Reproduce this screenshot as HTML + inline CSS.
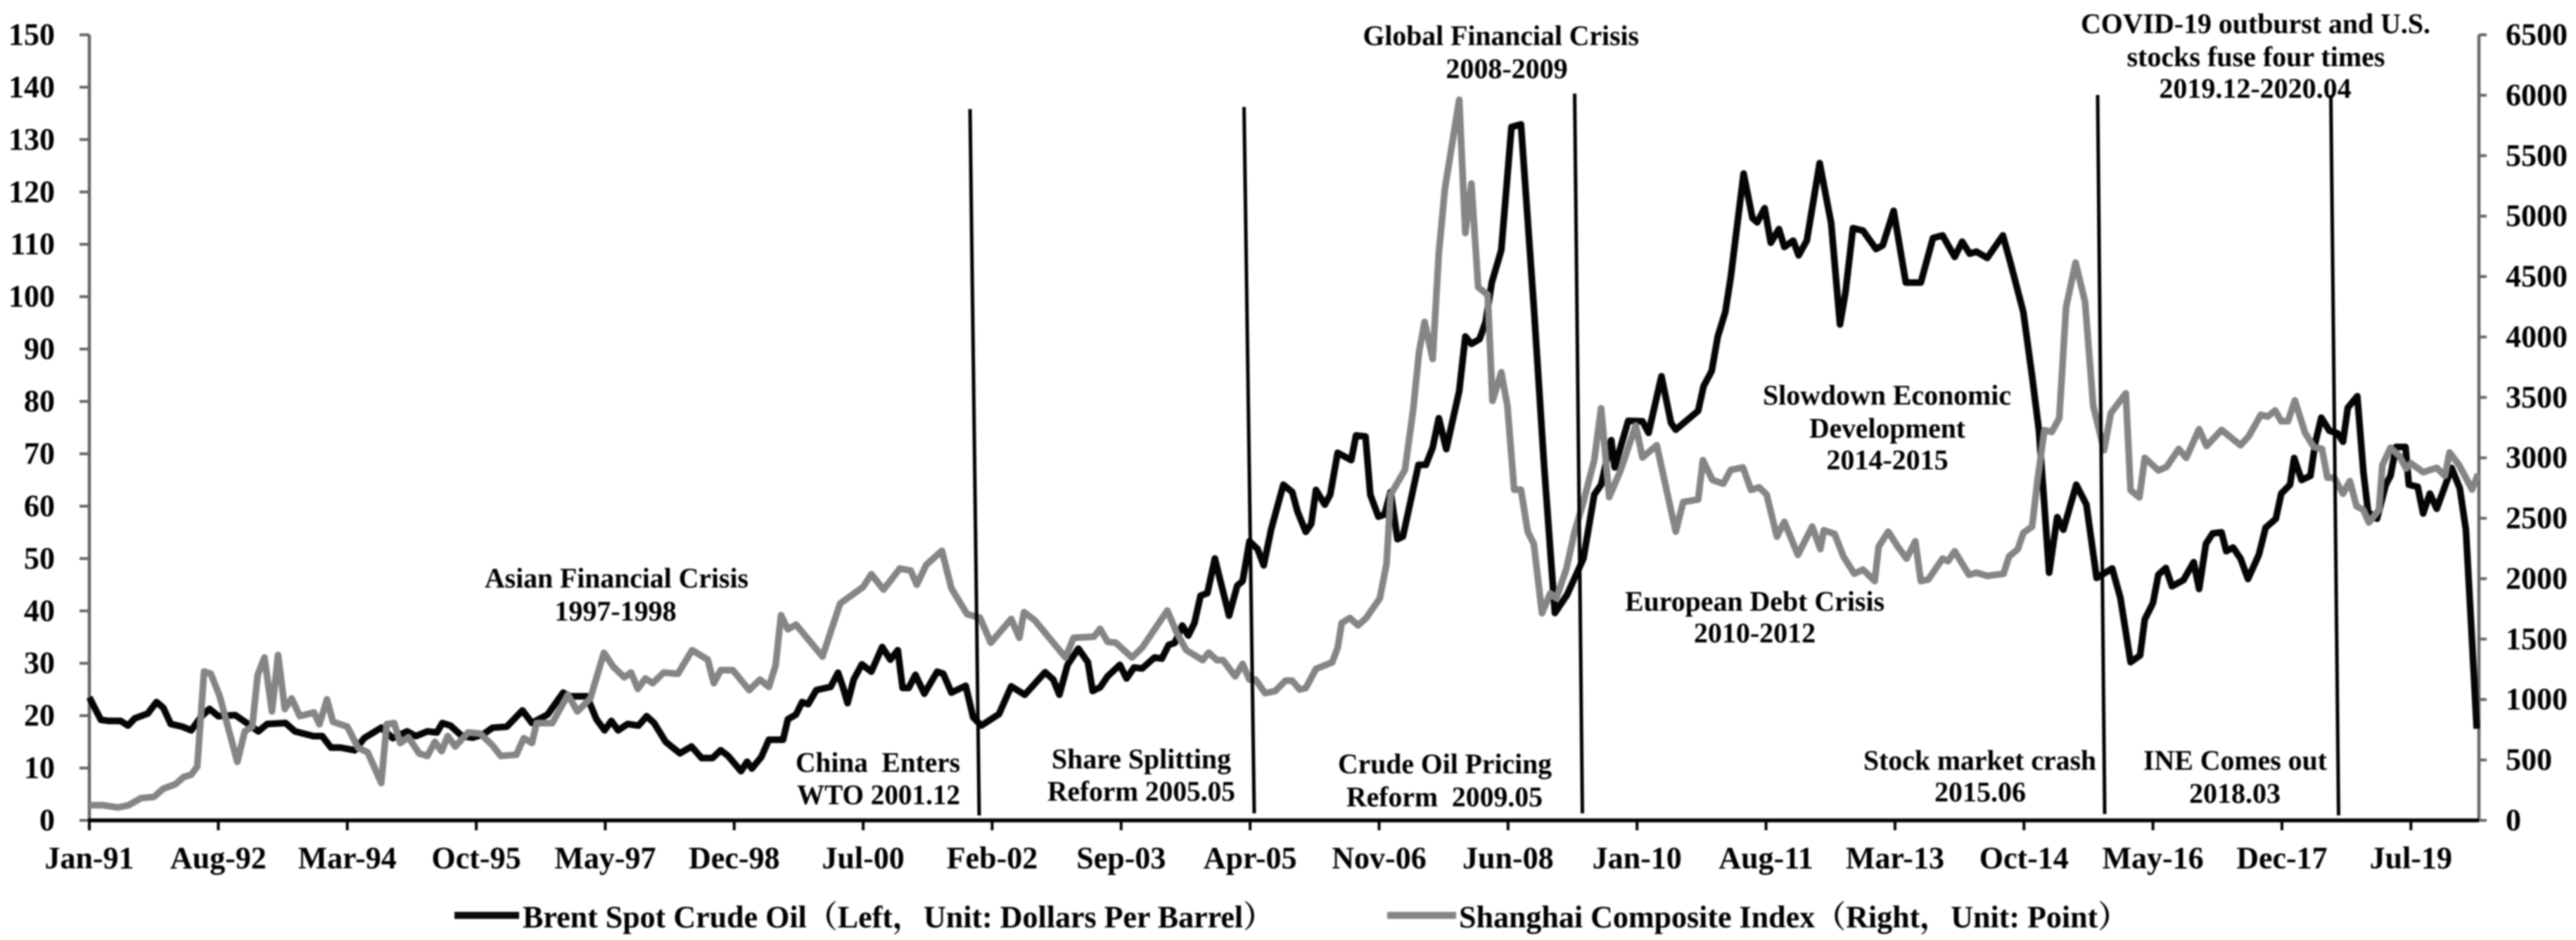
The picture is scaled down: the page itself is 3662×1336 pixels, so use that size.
<!DOCTYPE html>
<html>
<head>
<meta charset="utf-8">
<title>Brent crude oil and Shanghai Composite Index</title>
<style>
html,body{margin:0;padding:0;background:#fff;width:3662px;height:1336px;overflow:hidden}
svg{display:block;filter:blur(1px)}
text{font-family:"Liberation Serif","Noto Serif CJK SC",serif;font-weight:bold;fill:#000}
.ann{font-size:40px}
.tick{font-size:44px}
.leg{font-size:44px}
</style>
</head>
<body>
<svg id="chart" xmlns="http://www.w3.org/2000/svg" width="3662" height="1336" viewBox="0 0 3662 1336">
  <g id="axes"></g>
  <g id="series"></g>

  <g stroke="#000" stroke-width="5">
    <line x1="1379" y1="155" x2="1392" y2="1159"/>
    <line x1="1768.5" y1="152" x2="1783" y2="1156"/>
    <line x1="2238.5" y1="133" x2="2249.5" y2="1156"/>
    <line x1="2982" y1="135" x2="2992" y2="1157"/>
    <line x1="3313.5" y1="135" x2="3324.5" y2="1159"/>
  </g>

  <g>
    <text class="ann" x="689" y="835" textLength="375" lengthAdjust="spacingAndGlyphs">Asian Financial Crisis</text>
    <text class="ann" x="875" y="882" text-anchor="middle">1997-1998</text>
    <text class="ann" x="1131" y="1097" textLength="234" lengthAdjust="spacingAndGlyphs">China&#160;&#160;Enters</text>
    <text class="ann" x="1133" y="1143" textLength="232" lengthAdjust="spacingAndGlyphs">WTO 2001.12</text>
    <text class="ann" x="1495" y="1092" textLength="255" lengthAdjust="spacingAndGlyphs">Share Splitting</text>
    <text class="ann" x="1489" y="1138" textLength="267" lengthAdjust="spacingAndGlyphs">Reform 2005.05</text>
    <text class="ann" x="1902" y="1099" textLength="304" lengthAdjust="spacingAndGlyphs">Crude Oil Pricing</text>
    <text class="ann" x="1914" y="1146" textLength="279" lengthAdjust="spacingAndGlyphs">Reform&#160;&#160;2009.05</text>
    <text class="ann" x="1937.5" y="64" textLength="392.5" lengthAdjust="spacingAndGlyphs">Global Financial Crisis</text>
    <text class="ann" x="2142" y="111" text-anchor="middle">2008-2009</text>
    <text class="ann" x="2310" y="868" textLength="369" lengthAdjust="spacingAndGlyphs">European Debt Crisis</text>
    <text class="ann" x="2494.5" y="913" text-anchor="middle">2010-2012</text>
    <text class="ann" x="2506" y="575" textLength="353" lengthAdjust="spacingAndGlyphs">Slowdown Economic</text>
    <text class="ann" x="2572" y="622" textLength="222" lengthAdjust="spacingAndGlyphs">Development</text>
    <text class="ann" x="2683" y="667" text-anchor="middle">2014-2015</text>
    <text class="ann" x="2649" y="1094" textLength="331" lengthAdjust="spacingAndGlyphs">Stock market crash</text>
    <text class="ann" x="2815" y="1139" text-anchor="middle">2015.06</text>
    <text class="ann" x="3047" y="1094" textLength="261" lengthAdjust="spacingAndGlyphs">INE Comes out</text>
    <text class="ann" x="3177" y="1141" text-anchor="middle">2018.03</text>
    <text class="ann" x="2958" y="47" textLength="497" lengthAdjust="spacingAndGlyphs">COVID-19 outburst and U.S.</text>
    <text class="ann" x="3207" y="94" text-anchor="middle">stocks fuse four times</text>
    <text class="ann" x="3206" y="139" text-anchor="middle">2019.12-2020.04</text>
  </g>

  <g>
    <line x1="646" y1="1301" x2="738" y2="1301" stroke="#0a0a0a" stroke-width="10"/>
    <text class="leg" x="743" y="1318">Brent Spot Crude Oil（Left，Unit: Dollars Per Barrel）</text>
    <line x1="1972" y1="1301" x2="2070" y2="1301" stroke="#858585" stroke-width="10"/>
    <text class="leg" x="2074" y="1318">Shanghai Composite Index（Right，Unit: Point）</text>
  </g>
</svg>

<script>
// Chart data. Months are counted from Jan-91.
const xTickLabels = ["Jan-91","Aug-92","Mar-94","Oct-95","May-97","Dec-98","Jul-00","Feb-02","Sep-03","Apr-05","Nov-06","Jun-08","Jan-10","Aug-11","Mar-13","Oct-14","May-16","Dec-17","Jul-19"];
const monthsPerXTick = 19;
const leftTicks = [0,10,20,30,40,50,60,70,80,90,100,110,120,130,140,150];
const rightTicks = [0,500,1000,1500,2000,2500,3000,3500,4000,4500,5000,5500,6000,6500];

const oilMonths = [
0,1.7,2.8,4.6,5.7,6.7,8.6,9.9,10.9,12,
13.7,15,16.4,17.7,19,21.5,23.4,24.9,26.2,28.9,
30.3,33,34.3,35.6,37,39.1,40.5,43,44.7,46.8,
48.1,49.8,51.2,52,53.2,54.9,56.5,58,59.4,61.5,
63.8,65.2,67.5,69.8,70.7,73.3,74.7,75.9,76.9,77.9,
79.3,80.9,82.1,83.2,84.9,87,88.7,90.2,91.8,93,
94.1,96,96.9,97.6,99,100.1,102.2,102.9,104.1,105,
105.9,107.1,109.2,110.3,111,111.7,112.6,113.8,115.2,116.8,
118,119.1,119.8,120.7,121.7,123,124.9,125.8,127,129.1,
130.2,131.4,134,135.8,137.8,140.8,142,142.9,144.1,145.7,
147.1,147.8,148.9,150,151.8,152.8,153.9,155.1,156.9,158,
159,159.9,161,161.9,162.8,163.7,164.7,165.8,167.9,169.1,
169.9,170.9,172.1,173,174.1,175.9,177.2,178,179.2,180,
180.7,182,182.8,183.9,185.9,186.6,188,188.7,189.9,190.8,
191.7,192.7,193.5,195.8,196.9,197.9,198.8,199.9,201.8,202.7,
203.6,204.8,205.7,206.6,208,209.5,210.9,212.8,214.3,215.9,
217.7,220.1,221.7,222.7,224.2,224.7,226.7,228.8,229.7,231.6,
233,233.7,237,237.8,239,239.9,241,241.8,243.7,245,
245.7,246.8,247.7,248.9,249.7,251,251.8,253,254.9,256.6,
257.9,258.7,259.8,261.3,263.2,264.2,265.8,267.6,269.8,271.6,
273,274.8,275.9,277,278,279.6,281.9,283,284.9,286.2,
287.2,288,288.7,289.9,290.8,292.7,294.2,295.7,298,299.2,
300.7,302.1,302.8,304,304.8,305.9,306.8,308.5,310,310.8,
311.8,312.8,314.1,314.8,315.8,316.9,318,319.6,320.6,322.1,
322.9,324.2,324.8,325.9,327.2,327.9,328.8,330,331.2,332,
332.7,334.1,335,335.7,337,338.3,339,339.8,341.2,341.7,
343,343.8,344.8,345.8,348,349.2,350.1,351,351.7
];
const oilValues = [
23.5,19.2,19,19,18.1,19.5,20.4,22.6,21.5,18.4,
17.9,17.2,19.7,21.3,19.9,20.1,18.4,17,18.4,18.6,
17,16.1,16.1,13.9,13.9,13.4,15.7,17.7,15.7,17,
16.1,17,16.8,18.6,18.1,16.1,15.8,16.4,17.7,17.9,
21,18.6,20.2,24.4,23.7,23.7,19.3,17.2,19,17.2,
18.4,18.1,19.9,18.6,15,12.8,14.1,11.9,11.9,13.4,
12.3,9.4,11.2,9.9,12.1,15.4,15.4,19.3,20.2,22.6,
22.2,24.9,25.5,28.2,25.5,22.4,26.9,29.8,28.4,33.1,
30.7,32.5,25.3,25.3,27.8,24.2,28.4,28,24.4,25.7,
19.7,18.1,20.3,25.6,24,28.3,26.9,24,29.7,32.8,
30.2,24.7,25.4,27.5,29.7,27.1,29.2,29,31.1,30.9,
33.5,33.9,37.2,35.3,37.7,42.9,43.4,50,39.1,44.8,
45.7,53.3,51.8,48.7,55.6,64.1,62.7,58.9,55.1,56.6,
63.1,60.3,62.2,70.2,68.8,73.5,73.3,62.2,58,58.4,
62.7,53.7,54.2,67.9,67.9,71.2,76.8,70.9,82,92.4,
91,91.9,95.2,102.7,108.9,132.4,132.9,98,67.9,39.6,
43.1,50,62.2,64.1,72.6,67.4,76.3,76.2,74,84.8,
75.9,74.6,78.2,82.9,85.8,92.4,97.1,103.7,123.5,115,
114.2,116.9,110.3,112.9,109.5,110.7,107.9,110.7,125.5,114,
94.7,100.8,113.1,112.6,109.1,109.8,116.4,102.7,102.7,111.2,
111.7,107.6,110.5,108.2,108.6,107.4,111.7,106.5,97.1,84.8,
74.5,60.3,47.3,57.9,55.5,64.1,60.3,46.3,48.1,42.5,
30.2,31.5,38.4,41.5,46.9,48.2,44.7,45.9,49.3,44.2,
52.8,54.8,55,51.4,52.1,50,46.1,50.7,55.9,57.6,
62.4,64.1,69.2,65,65.8,72,76.9,74.4,73.9,72.3,
78.8,81,66.5,58.9,57.6,64.1,65.8,71.3,71.3,64.1,
63.7,58.6,62.4,59.5,67.3,63.4,55.5,34.3,17.5
];

const indexMonths = [
0,2,4.2,5.8,7.6,9.5,10.9,12.7,13.9,15,
15.9,16.9,17.9,19.2,20.4,21.8,22.9,24,24.8,25.8,
26.9,27.8,28.8,29.8,31,33.1,33.9,35,35.9,38,
39.6,41,43,43.8,44.9,45.8,47,48.6,49.8,50.9,
51.9,52.8,53.9,55.8,57.6,59.4,60.6,62.9,64,65.2,
65.9,68.2,70.5,71.9,73.8,75.8,77.2,78.8,79.8,80.8,
81.9,83,84.6,86.7,88.8,91.1,92,93,94.8,97.2,
98.8,100.1,101.1,101.9,102.9,104.1,108,110.6,114,115.2,
117,119.4,121,121.9,123.3,125.6,127,129.3,131.2,132.8,
135.8,137,137.7,139.3,143.8,145,148,148.9,150,151.2,
153.6,155.1,158.8,160.2,161.6,164,164.9,166.1,167,168.8,
169.9,170.9,171.8,173.2,174.7,176.2,177.2,178.3,179.2,180.7,
183.1,183.9,184.5,185.7,186.9,188.1,190.1,191.1,191.7,193.8,
195,195.9,196.7,197.9,198.8,199.7,201.8,202.7,203.6,204.6,
206,206.7,208,208.9,209.9,210.9,211.9,212.8,214,215.2,
216.1,217.6,218.8,220,221.7,222.7,223.9,225.6,227.8,228.8,
230.9,233.7,234.8,237,237.7,239.1,240.7,241.8,243.6,244.8,
246,247.1,248.6,249.7,251.7,253.8,255,255.5,257.1,258.4,
260,261.3,263,263.6,265,266.4,267.7,269,269.8,270.9,
273,273.8,274.8,276.9,278,279.6,282,282.8,284.1,284.9,
286.2,287,288,289.1,290.2,291.2,292.6,294,295.2,296.8,
297.8,300,300.7,302,302.8,304.8,306,307.8,308.9,310.8,
311.9,314.1,316.9,318.1,319.9,320.9,322,322.9,323.9,324.9,
326.4,327.7,328.9,329.7,330.7,332,333,334,335,335.8,
337.3,337.8,339,340.3,341.3,342,343.8,345.8,347,347.7,
349.1,351,351.9
];
const indexValues = [
126,126,107,126,184,194,262,300,359,378,
446,1232,1213,1028,776,485,737,776,1203,1348,
902,1368,922,1009,863,893,796,1000,815,776,
601,563,310,796,805,640,688,553,533,650,
572,698,611,728,718,620,533,543,680,640,
805,805,1040,902,1009,1387,1271,1184,1223,1088,
1174,1135,1223,1213,1408,1330,1135,1243,1243,1078,
1165,1105,1282,1698,1581,1620,1356,1794,1932,2037,
1910,2084,2067,1950,2115,2231,1920,1707,1677,1470,
1667,1511,1723,1654,1348,1511,1520,1585,1478,1470,
1348,1429,1736,1552,1409,1326,1388,1326,1326,1192,
1295,1165,1165,1053,1070,1156,1156,1083,1095,1254,
1308,1429,1634,1675,1613,1675,1838,2124,2696,2900,
3390,3880,4125,3818,4696,5228,5963,4860,5269,4411,
4349,3471,3708,3431,2736,2736,2389,2287,1714,1878,
1838,2083,2389,2614,2982,3410,2675,2900,3267,3002,
3104,2389,2634,2656,2981,2817,2786,2900,2920,2735,
2756,2695,2348,2470,2197,2431,2245,2401,2370,2184,
2041,2075,1980,2266,2389,2266,2166,2309,1980,1993,
2166,2145,2227,2032,2050,2023,2041,2184,2245,2379,
2431,2817,3228,3215,3328,4247,4615,4290,3431,3063,
3371,3534,2732,2673,3000,2896,2925,3074,3000,3237,
3098,3231,3104,3178,3356,3341,3392,3303,3303,3475,
3207,3089,3074,2836,2836,2703,2807,2599,2569,2465,
2569,2940,3083,3015,2911,2955,2881,2917,2851,3044,
2940,2738,2866
];

const SVG_NS = "http://www.w3.org/2000/svg";
const plotLeft = 127, plotRight = 3524, plotTop = 49.5, plotBottom = 1166;
const monthWidth = 9.65, leftMax = 150, rightMax = 6500;

function xScale(month) { return plotLeft + month * monthWidth; }
function yLeft(v) { return plotBottom - v * (plotBottom - plotTop) / leftMax; }
function yRight(v) { return plotBottom - v * (plotBottom - plotTop) / rightMax; }

function svgEl(tag, attrs, parent) {
  const el = document.createElementNS(SVG_NS, tag);
  Object.keys(attrs).forEach(function (k) { el.setAttribute(k, attrs[k]); });
  parent.appendChild(el);
  return el;
}

const axes = document.getElementById("axes");
const series = document.getElementById("series");

// Left axis
const leftAxis = svgEl("line", {x1: plotLeft, y1: plotTop, x2: plotLeft, y2: plotBottom, stroke: "#666", "stroke-width": 4.5}, axes);


leftTicks.forEach(function (v) {
  const t = svgEl("line", {x1: 113, y1: yLeft(v), x2: plotLeft, y2: yLeft(v), stroke: "#666", "stroke-width": 4}, axes);
  
  
  const l = svgEl("text", {x: 78, y: yLeft(v) + 14, "text-anchor": "end", class: "tick"}, axes);
  
  
  l.textContent = v;
});

// Right axis
const rightAxis = svgEl("line", {x1: plotRight, y1: plotTop, x2: plotRight, y2: plotBottom, stroke: "#666", "stroke-width": 4.5}, axes);


rightTicks.forEach(function (v) {
  const t = svgEl("line", {x1: plotRight, y1: yRight(v), x2: 3535, y2: yRight(v), stroke: "#666", "stroke-width": 4}, axes);
  
  
  const l = svgEl("text", {x: 3562, y: yRight(v) + 14, class: "tick"}, axes);
  
  
  l.textContent = v;
});

// X axis
const xAxis = svgEl("line", {x1: plotLeft - 2, y1: plotBottom, x2: plotRight, y2: plotBottom, stroke: "#000", "stroke-width": 5.5}, axes);


xTickLabels.forEach(function (label, i) {
  const x = xScale(i * monthsPerXTick);
  const t = svgEl("line", {x1: x, y1: plotBottom, x2: x, y2: 1180, stroke: "#000", "stroke-width": 4}, axes);
  
  
  const l = svgEl("text", {x: x, y: 1234, "text-anchor": "middle", class: "tick"}, axes);
  
  
  l.textContent = label;
});

function pointsFor(months, values, yFn) {
  return months.map(function (m, i) { return xScale(m).toFixed(1) + "," + yFn(values[i]).toFixed(1); }).join(" ");
}

const oilLine = svgEl("polyline", {points: pointsFor(oilMonths, oilValues, yLeft), fill: "none", stroke: "#050505", "stroke-width": 9.5, "stroke-linejoin": "round", "stroke-linecap": "butt"}, series);



const indexLine = svgEl("polyline", {points: pointsFor(indexMonths, indexValues, yRight), fill: "none", stroke: "#858585", "stroke-width": 9.5, "stroke-linejoin": "round", "stroke-linecap": "butt"}, series);


</script>
</body>
</html>
